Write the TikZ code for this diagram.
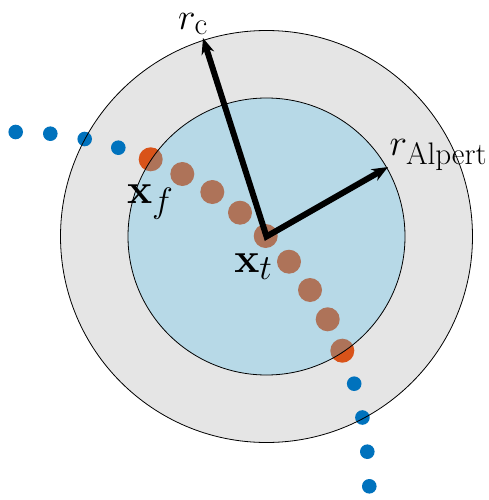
\documentclass[tikz,border=0pt]{standalone}
\usepackage{amsmath, amssymb}
\usepackage{xcolor}
\usepackage{tikz}
\usetikzlibrary{arrows.meta}
\definecolor{dotblue}{RGB}{0, 114, 189}
\definecolor{dotorange}{RGB}{217, 83, 25}
\definecolor{diskblue}{RGB}{77, 190, 238}
\definecolor{diskgray}{RGB}{229, 229, 229}

\begin{document}
\begin{tikzpicture}[x=1pt,y=-1pt]
\useasboundingbox (0,0) rectangle (489,500);
\coordinate (xt) at (266.5,236.5);
\fill[diskgray] (xt) circle (206pt);
% far points
\foreach \px/\py in {15.7/132, 50.3/133.7, 84.7/139, 118.3/147.7, 354.2/383.7, 362.4/417.5, 367.3/451.7, 369.3/486.3}
  \fill[dotblue] (\px,\py) circle (7.3pt);
% near points
\foreach \px/\py in {150.7/159.3, 182.3/174, 212.3/192, 240/212.7, 265.7/236, 289/261.7, 310/290, 327.7/319.3, 342.3/350.7}
  \fill[dotorange] (\px,\py) circle (12pt);
\fill[diskblue,opacity=0.3] (xt) circle (138.5pt);
\draw[line width=0.8pt] (xt) circle (206pt);
\draw[line width=0.8pt] (xt) circle (138.5pt);
\coordinate (tipc) at (203,38);
\coordinate (tipa) at (388,167);
\draw[line width=6pt,line join=miter,{Stealth[length=16pt,width=13pt]}-{Stealth[length=16pt,width=13pt]}] (tipc) -- (xt) -- (tipa);
\node[font=\Huge,scale=1.5,inner sep=0pt] (lrc) at (193,24) {$r_{\mathrm{c}}$};
\node[font=\Huge,scale=1.5,inner sep=0pt] (lra) at (438.5,155) {$r_{\mathrm{Alpert}}$};
\node[font=\Huge,scale=1.7,inner sep=0pt] (lxf) at (150.5,202) {$\mathbf{x}_f$};
\node[font=\Huge,scale=1.7,inner sep=0pt] (lxt) at (253.5,267) {$\mathbf{x}_t$};
\end{tikzpicture}
\end{document}
